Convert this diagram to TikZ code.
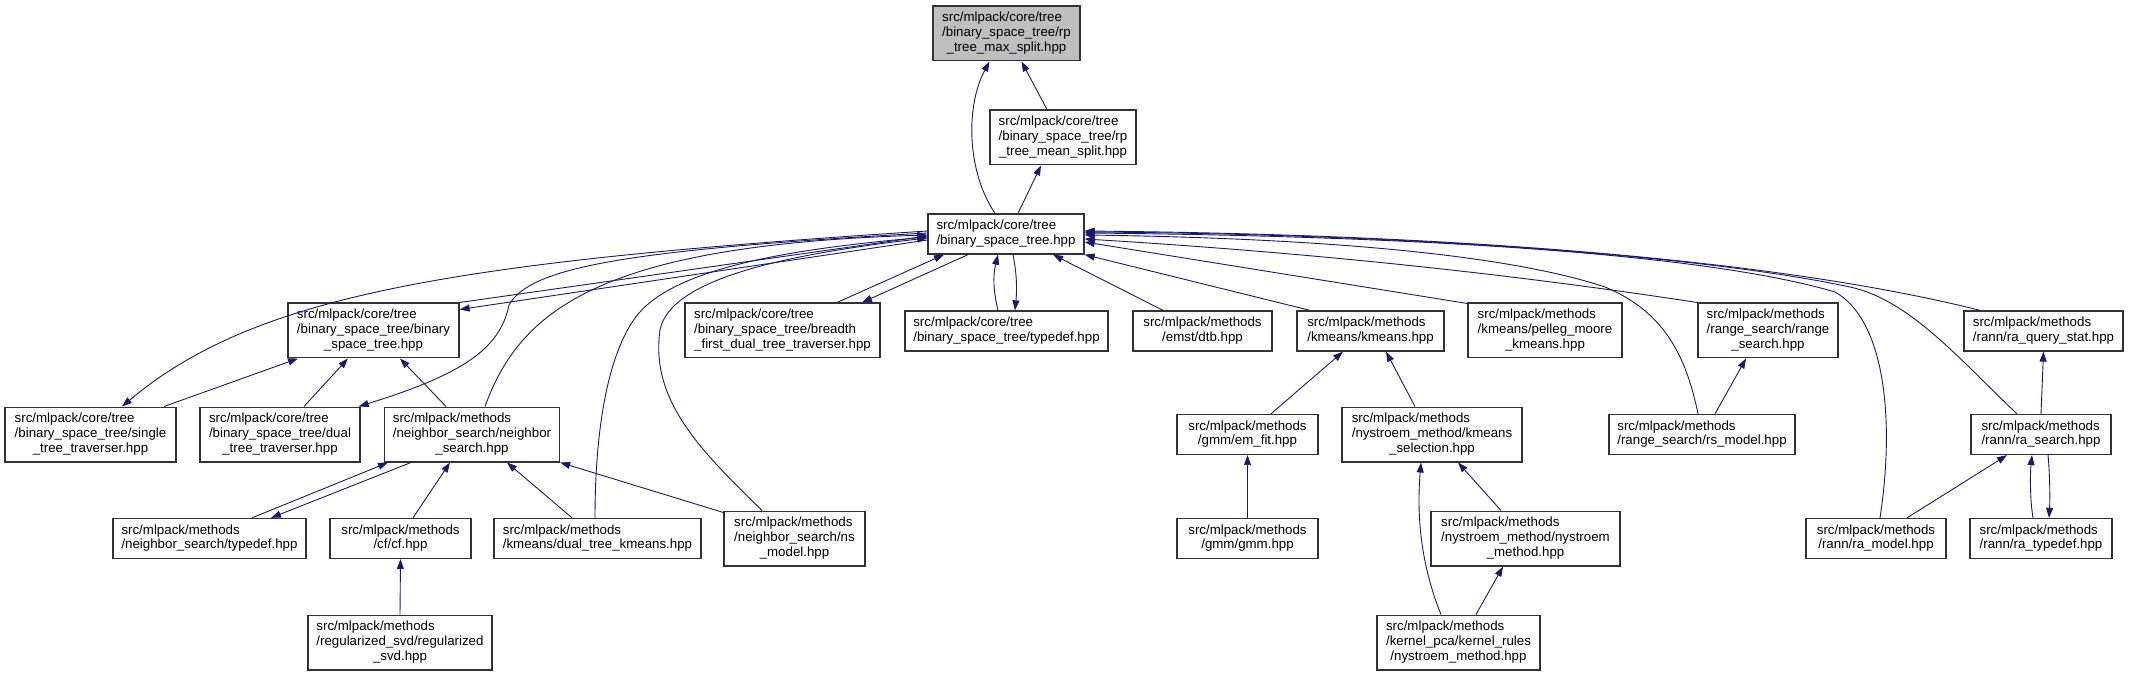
\documentclass[tikz,border=0pt]{standalone}
\usepackage{fontspec}
\setmainfont{Liberation Sans}
\usetikzlibrary{arrows.meta}
\definecolor{edgeblue}{RGB}{25,25,112}
\definecolor{rootgray}{RGB}{191,191,191}
% label: upper lines flush left, last line centred
\newcommand{\ltwo}[2]{\begin{tabular}{@{}l@{}}#1\\\multicolumn{1}{@{}c@{}}{#2}\end{tabular}}
\newcommand{\lthree}[3]{\begin{tabular}{@{}l@{}}#1\\#2\\\multicolumn{1}{@{}c@{}}{#3}\end{tabular}}
\begin{document}
\begin{tikzpicture}[x=1pt,y=-1pt,>={Triangle[length=10pt,width=7pt]},
  file/.style={draw=black!80,line width=1.3pt,fill=white,inner xsep=2pt,inner ysep=5.3pt,
    font=\fontsize{13.3}{14.7}\selectfont},
  inc/.style={->,draw=edgeblue,line width=0.9pt}]
  \useasboundingbox (0,0) rectangle (2129,676);
  % files
  \node[file,fill=rootgray,minimum width=147pt] (maxsplit) at (1006.5,33.5) {\lthree{src/mlpack/core/tree}{/binary\_space\_tree/rp}{\_tree\_max\_split.hpp}};
  \node[file,minimum width=146pt] (meansplit) at (1063,137.5) {\lthree{src/mlpack/core/tree}{/binary\_space\_tree/rp}{\_tree\_mean\_split.hpp}};
  \node[file,minimum width=156pt] (bst) at (1006,234) {\ltwo{src/mlpack/core/tree}{/binary\_space\_tree.hpp}};
  \node[file,minimum width=171pt] (bstbin) at (373.5,330.5) {\lthree{src/mlpack/core/tree}{/binary\_space\_tree/binary}{\_space\_tree.hpp}};
  \node[file,minimum width=195pt] (breadth) at (782.5,330.5) {\lthree{src/mlpack/core/tree}{/binary\_space\_tree/breadth}{\_first\_dual\_tree\_traverser.hpp}};
  \node[file,minimum width=203pt] (bsttypedef) at (1006.5,331) {\ltwo{src/mlpack/core/tree}{/binary\_space\_tree/typedef.hpp}};
  \node[file,minimum width=139pt] (emst) at (1202.5,331) {\ltwo{src/mlpack/methods}{/emst/dtb.hpp}};
  \node[file,minimum width=147pt] (kmeans) at (1370.5,331) {\ltwo{src/mlpack/methods}{/kmeans/kmeans.hpp}};
  \node[file,minimum width=154pt] (pelleg) at (1545,330.5) {\lthree{src/mlpack/methods}{/kmeans/pelleg\_moore}{\_kmeans.hpp}};
  \node[file,minimum width=140pt] (rangesearch) at (1768,330.5) {\lthree{src/mlpack/methods}{/range\_search/range}{\_search.hpp}};
  \node[file,minimum width=159pt] (raquery) at (2043.5,331) {\ltwo{src/mlpack/methods}{/rann/ra\_query\_stat.hpp}};
  \node[file,minimum width=171pt] (single) at (90.5,434.5) {\lthree{src/mlpack/core/tree}{/binary\_space\_tree/single}{\_tree\_traverser.hpp}};
  \node[file,minimum width=160pt] (dual) at (280,434.5) {\lthree{src/mlpack/core/tree}{/binary\_space\_tree/dual}{\_tree\_traverser.hpp}};
  \node[file,minimum width=175pt] (nsearch) at (472,434.5) {\lthree{src/mlpack/methods}{/neighbor\_search/neighbor}{\_search.hpp}};
  \node[file,minimum width=141pt] (emfit) at (1247.5,434.5) {\ltwo{src/mlpack/methods}{/gmm/em\_fit.hpp}};
  \node[file,minimum width=180pt] (kmsel) at (1432,434.5) {\lthree{src/mlpack/methods}{/nystroem\_method/kmeans}{\_selection.hpp}};
  \node[file,minimum width=186pt] (rsmodel) at (1702,434.5) {\ltwo{src/mlpack/methods}{/range\_search/rs\_model.hpp}};
  \node[file,minimum width=140pt] (rasearch) at (2041,434.5) {\ltwo{src/mlpack/methods}{/rann/ra\_search.hpp}};
  \node[file,minimum width=193pt] (nstypedef) at (209.5,538.5) {\ltwo{src/mlpack/methods}{/neighbor\_search/typedef.hpp}};
  \node[file,minimum width=141pt] (cf) at (400.5,538.5) {\ltwo{src/mlpack/methods}{/cf/cf.hpp}};
  \node[file,minimum width=207pt] (dtkmeans) at (597.5,538.5) {\ltwo{src/mlpack/methods}{/kmeans/dual\_tree\_kmeans.hpp}};
  \node[file,minimum width=141pt] (nsmodel) at (794.5,538.5) {\lthree{src/mlpack/methods}{/neighbor\_search/ns}{\_model.hpp}};
  \node[file,minimum width=141pt] (gmm) at (1247.5,538.5) {\ltwo{src/mlpack/methods}{/gmm/gmm.hpp}};
  \node[file,minimum width=189pt] (nystroem) at (1525.5,538.5) {\lthree{src/mlpack/methods}{/nystroem\_method/nystroem}{\_method.hpp}};
  \node[file,minimum width=140pt] (ramodel) at (1876,538.5) {\ltwo{src/mlpack/methods}{/rann/ra\_model.hpp}};
  \node[file,minimum width=142pt] (ratypedef) at (2041,538.5) {\ltwo{src/mlpack/methods}{/rann/ra\_typedef.hpp}};
  \node[file,minimum width=184pt] (regsvd) at (400,642.5) {\lthree{src/mlpack/methods}{/regularized\_svd/regularized}{\_svd.hpp}};
  \node[file,minimum width=163pt] (kernel) at (1458.5,642.5) {\lthree{src/mlpack/methods}{/kernel\_pca/kernel\_rules}{/nystroem\_method.hpp}};
  % top of the tree
  \draw[inc] ([xshift=-16pt]meansplit.north) -- ([xshift=15pt]maxsplit.south);
  \draw[inc] ([xshift=-11pt]bst.north) .. controls (966,170) and (966,105) .. ([xshift=-17pt]maxsplit.south);
  \draw[inc] ([xshift=12pt]bst.north) -- ([xshift=-22pt]meansplit.south);
  % left of binary_space_tree.hpp
  \draw[inc] (bstbin.north east) -- ([yshift=-2pt]bst.west);
  \draw[inc] ([yshift=-6pt]bst.west) -- ([yshift=-7pt]bstbin.north east);
  \draw[inc] ([yshift=3pt]bst.west) .. controls (450,262) and (255,295) .. ([xshift=31.5pt]single.north);
  \draw[inc] ([yshift=1pt]bst.west) .. controls (620,250) and (530,268) .. (509,305) .. controls (500,350) and (460,375) .. ([xshift=-2pt]dual.north east);
  \draw[inc] ([xshift=13pt]nsearch.north) .. controls (520,310) and (600,245) .. ([yshift=-1pt]bst.west);
  \draw[inc] ([xshift=-2.5pt]dtkmeans.north) .. controls (595,440) and (605,360) .. (635,318) .. controls (670,270) and (780,250) .. ([yshift=-3pt]bst.west);
  \draw[inc] ([xshift=-32.5pt]nsmodel.north) .. controls (700,450) and (650,400) .. (660,330) .. controls (670,280) and (780,255) .. ([yshift=-4pt]bst.west);
  \draw[inc] ([xshift=54.5pt]breadth.north) -- ([xshift=-62pt]bst.south);
  \draw[inc] ([xshift=-38pt]bst.south) -- ([xshift=79.5pt]breadth.north);
  \draw[inc] ([xshift=-8.5pt]bsttypedef.north) .. controls (993,290) and (993,275) .. ([xshift=-8pt]bst.south);
  \draw[inc] ([xshift=7pt]bst.south) .. controls (1017,275) and (1017,290) .. ([xshift=8.5pt]bsttypedef.north);
  % right of binary_space_tree.hpp
  \draw[inc] ([xshift=-39.5pt]emst.north) -- ([xshift=47pt]bst.south);
  \draw[inc] ([xshift=-60.5pt]kmeans.north) -- (bst.south east);
  \draw[inc] ([yshift=-1pt]pelleg.north west) -- ([yshift=-8pt]bst.east);
  \draw[inc] (rangesearch.north west) .. controls (1550,280) and (1350,255) .. ([yshift=-5pt]bst.east);
  \draw[inc] ([xshift=-63.5pt]raquery.north) .. controls (1800,265) and (1500,235) .. ([yshift=3pt]bst.east);
  \draw[inc] ([xshift=-24pt]rasearch.north) .. controls (1960,360) and (1910,300) .. (1850,287) .. controls (1700,255) and (1400,234) .. ([yshift=2pt]bst.east);
  \draw[inc] ([xshift=4pt]ramodel.north) .. controls (1895,420) and (1885,320) .. (1835,292) .. controls (1700,252) and (1400,236) .. ([yshift=1pt]bst.east);
  \draw[inc] ([xshift=-4pt]rsmodel.north) .. controls (1685,350) and (1660,310) .. (1605,287) .. controls (1500,252) and (1300,238) .. ([yshift=-1pt]bst.east);
  % lower levels
  \draw[inc] ([xshift=73.5pt]single.north) -- ([xshift=-75.5pt]bstbin.south);
  \draw[inc] ([xshift=24pt]dual.north) -- ([xshift=-25.5pt]bstbin.south);
  \draw[inc] ([xshift=-26pt]nsearch.north) -- ([xshift=26.5pt]bstbin.south);
  \draw[inc] ([xshift=42.5pt]nstypedef.north) -- ([xshift=-84pt]nsearch.south);
  \draw[inc] ([xshift=-61pt]nsearch.south) -- ([xshift=61.5pt]nstypedef.north);
  \draw[inc] ([xshift=12.5pt]cf.north) -- ([xshift=-22pt]nsearch.south);
  \draw[inc] ([xshift=-25.5pt]dtkmeans.north) -- ([xshift=35pt]nsearch.south);
  \draw[inc] ([yshift=-2pt]nsmodel.north west) -- (nsearch.south east);
  \draw[inc] (regsvd.north) -- (cf.south);
  \draw[inc] ([xshift=23.5pt]emfit.north) -- ([xshift=-27.5pt]kmeans.south);
  \draw[inc] ([xshift=-17pt]kmsel.north) -- ([xshift=15.5pt]kmeans.south);
  \draw[inc] (gmm.north) -- (emfit.south);
  \draw[inc] ([xshift=-24.5pt]nystroem.north) -- ([xshift=26pt]kmsel.south);
  \draw[inc] ([xshift=-17.5pt]kernel.north) .. controls (1419,560) and (1417,510) .. ([xshift=-11pt]kmsel.south);
  \draw[inc] ([xshift=17.5pt]kernel.north) -- ([xshift=-22.5pt]nystroem.south);
  \draw[inc] ([xshift=13pt]rsmodel.north) -- ([xshift=-22pt]rangesearch.south);
  \draw[inc] (rasearch.north) -- (raquery.south);
  \draw[inc] ([xshift=31pt]ramodel.north) -- ([xshift=-34pt]rasearch.south);
  \draw[inc] ([xshift=-8pt]ratypedef.north) .. controls (2030,500) and (2030,475) .. ([xshift=-9pt]rasearch.south);
  \draw[inc] ([xshift=7pt]rasearch.south) .. controls (2050,475) and (2050,500) .. ([xshift=8pt]ratypedef.north);
\end{tikzpicture}
\end{document}
